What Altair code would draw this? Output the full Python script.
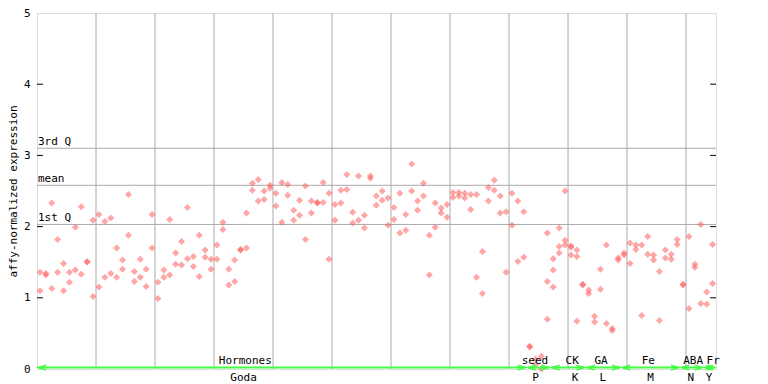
import altair as alt
import pandas as pd

FONT = "DejaVu Sans Mono"

# ---- group annotations along the x axis ----
groups = ["Hormones", "seed", "CK", "GA", "Fe", "ABA", "Fr"]
letters = ["Goda", "P", "K", "L", "M", "N", "Y"]
first_sample = [0, 83, 87, 93, 99, 109, 113]
last_sample = [82, 86, 92, 98, 108, 112, 114]
label_pos = [35.3, 84.4, 90.7, 95.6, 103.6, 111.2, 114.6]
letter_pos = [35.0, 84.5, 91.2, 95.9, 104.0, 110.8, 113.9]

# ---- summary lines ----
q_labels = ["3rd Q", "mean", "1st Q"]
q_values = [3.10, 2.58, 2.03]

y_ticks = [0, 1, 2, 3, 4, 5]
x_grid = [10, 20, 30, 40, 50, 60, 70, 80, 90, 100, 110]

# ---- expression values per sample (replicates) ----
hormones_vals = [
    [1.36, 1.10], [1.34, 1.32], [2.33, 1.13], [1.82, 1.36], [1.48, 1.10],
    [1.36, 1.22], [1.99, 1.39], [2.28, 1.33], [1.51, 1.50], [2.09, 1.02],
    [2.17, 1.15], [2.07, 1.29], [2.12, 1.34], [1.70, 1.29], [1.53, 1.40],
    [2.45, 1.88], [1.37, 1.23], [1.54, 1.29], [1.40, 1.16], [2.17, 1.70],
    [1.22, 0.99], [1.39, 1.29], [2.10, 1.32], [1.63, 1.47], [1.79, 1.46],
    [2.27, 1.55], [1.58, 1.44], [1.88, 1.30], [1.67, 1.57], [1.54, 1.40],
    [1.74, 1.54], [2.06, 1.96], [1.40, 1.18], [1.53, 1.23], [1.68, 1.67],
    [2.19, 1.70], [2.61, 2.51], [2.66, 2.36], [2.50, 2.38], [2.58, 2.54],
    [2.47, 2.29], [2.62, 2.06], [2.59, 2.44], [2.23, 2.09], [2.37, 2.16],
    [2.57, 1.82], [2.36, 2.19], [2.34, 2.33], [2.62, 2.34], [2.47, 1.54],
    [2.31, 2.09], [2.51, 2.33], [2.73, 2.52], [2.20, 2.05], [2.71, 2.09],
    [2.16, 1.98], [2.71, 2.68], [2.43, 2.30], [2.50, 2.37], [2.40, 2.02],
    [2.27, 2.10], [2.47, 1.91], [2.17, 1.95], [2.88, 2.50], [2.36, 2.23],
    [2.61, 2.43], [1.88, 1.32], [2.33, 1.99], [2.26, 2.19], [2.31, 2.13],
    [2.48, 2.41], [2.48, 2.43], [2.47, 2.40], [2.45, 2.24], [2.45, 1.29],
    [1.65, 1.06], [2.55, 2.36], [2.65, 2.51], [2.43, 2.19], [2.21, 1.36],
    [2.47, 2.02], [2.36, 1.51], [2.21, 1.57],
]
seed_vals = [[0.32, 0.31], [0.14, 0.06], [0.18, 0.00], [1.91, 1.23, 0.70]]
ck_vals = [[1.55, 1.39, 1.15], [1.98, 1.72, 1.63], [2.50, 1.81, 1.74],
           [1.73, 1.71, 1.60], [1.67, 1.58, 0.67], [1.19, 1.18]]
ga_vals = [[1.11, 1.06], [0.74, 0.66], [1.40, 1.12], [1.74, 0.64],
           [0.57, 0.54], [1.56, 1.53]]
fe_vals = [[1.63, 1.60], [1.77, 1.48], [1.74, 1.68], [1.74, 0.75], [1.86, 1.61],
           [1.60, 1.53], [1.37, 0.68], [1.67, 1.56], [1.61, 1.54], [1.82, 1.75]]
aba_vals = [[1.19, 1.18], [1.86, 0.85], [1.47, 1.43], [2.03, 0.92]]
fr_vals = [[1.08, 0.91], [1.75, 1.20]]

all_vals = hormones_vals + seed_vals + ck_vals + ga_vals + fe_vals + aba_vals + fr_vals

rows = []
for k, vals in enumerate(all_vals):
    for v in vals:
        rows.append({"pos": k + 0.5, "expr": v})
points_df = pd.DataFrame(rows)

grp_df = pd.DataFrame({
    "group": groups,
    "letter": letters,
    "start": [f + 0.2 for f in first_sample],
    "end": [l + 0.8 for l in last_sample],
    "lpos": label_pos,
    "tpos": letter_pos,
    "base": [0.0] * len(groups),
    "gl": [0.02] * len(groups),
})

xs = alt.Scale(domain=[0, 115.08], nice=False, zero=False)
ys = alt.Scale(domain=[0, 5], nice=False, zero=True)

GRID = "#aaaaaa"
PINK = "#ff5c5c"
GREEN = "#44ff44"

vgrid = alt.Chart(pd.DataFrame({"gx": x_grid})).mark_rule(color=GRID, strokeWidth=1).encode(
    x=alt.X("gx:Q", scale=xs, axis=None)
)

qdf = pd.DataFrame({"q": q_values, "lab": q_labels, "x0": [0] * 3})
qlines = alt.Chart(qdf).mark_rule(color=GRID, strokeWidth=1).encode(
    y=alt.Y("q:Q", scale=ys,
            axis=alt.Axis(values=y_ticks, format="d", ticks=False, grid=False, domain=False,
                          labelFont=FONT, labelFontSize=11, labelColor="black",
                          labelPadding=7, title="affy-normalized expression",
                          titleFont=FONT, titleFontSize=11, titleFontWeight="normal",
                          titleColor="black", titlePadding=5))
)
qtext = alt.Chart(qdf).mark_text(font=FONT, fontSize=11, align="left", baseline="bottom",
                                 dx=1, dy=-1, color="black").encode(
    x=alt.X("x0:Q", scale=xs), y=alt.Y("q:Q", scale=ys), text="lab:N"
)

tick_df = pd.DataFrame({
    "ty": [1, 2, 3, 4] * 2,
    "tx1": [0.0] * 4 + [114.08] * 4,
    "tx2": [1.0] * 4 + [115.08] * 4,
})
ticks = alt.Chart(tick_df).mark_rule(color="black", strokeWidth=1).encode(
    x=alt.X("tx1:Q", scale=xs), x2="tx2:Q", y=alt.Y("ty:Q", scale=ys)
)

pts = alt.Chart(points_df).mark_point(shape="diamond", filled=True, size=49,
                                      color=PINK, opacity=0.55, strokeWidth=0).encode(
    x=alt.X("pos:Q", scale=xs), y=alt.Y("expr:Q", scale=ys)
)

glines = alt.Chart(grp_df).mark_rule(color=GREEN, strokeWidth=2).encode(
    x=alt.X("start:Q", scale=xs), x2="end:Q", y=alt.Y("gl:Q", scale=ys)
)
larrow = alt.Chart(grp_df).mark_point(shape="M2,-0.6L0,0L2,0.6", filled=False, size=64,
                                      color=GREEN, strokeWidth=1.5, opacity=1).encode(
    x=alt.X("start:Q", scale=xs), y=alt.Y("gl:Q", scale=ys)
)
rarrow = alt.Chart(grp_df).mark_point(shape="M-2,-0.6L0,0L-2,0.6", filled=False, size=64,
                                      color=GREEN, strokeWidth=1.5, opacity=1).encode(
    x=alt.X("end:Q", scale=xs), y=alt.Y("gl:Q", scale=ys)
)
gtext = alt.Chart(grp_df).mark_text(font=FONT, fontSize=11, baseline="bottom", align="center",
                                    dy=-3, color="black").encode(
    x=alt.X("lpos:Q", scale=xs), y=alt.Y("base:Q", scale=ys), text="group:N"
)
ltext = alt.Chart(grp_df).mark_text(font=FONT, fontSize=11, baseline="top", align="center",
                                    dy=3, color="black").encode(
    x=alt.X("tpos:Q", scale=xs), y=alt.Y("base:Q", scale=ys), text="letter:N"
)

chart = alt.layer(vgrid, qlines, qtext, ticks, pts, glines, larrow, rarrow, gtext, ltext).properties(
    width=679, height=356,
    autosize=alt.AutoSizeParams(type="none"),
    padding={"left": 29, "top": 5, "right": 36, "bottom": 14},
).configure_view(stroke="black", strokeWidth=1).configure(background="white")

chart.save("out.html", embed_options={"renderer": "svg", "actions": False})
